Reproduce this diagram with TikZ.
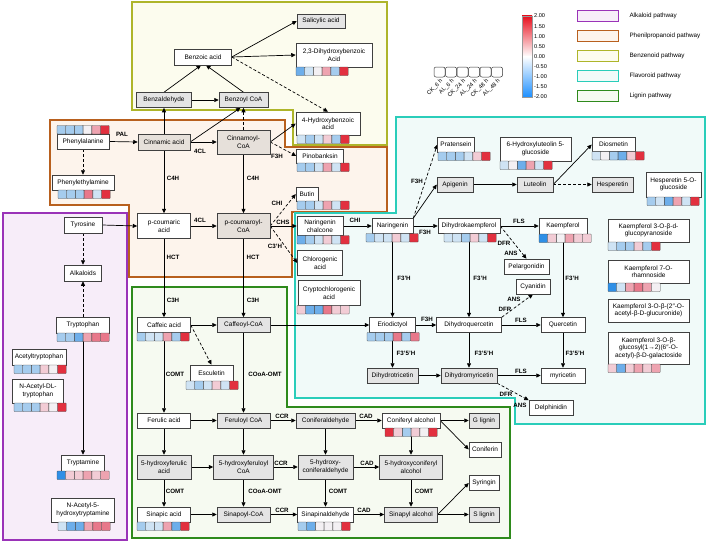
\documentclass[tikz,border=0pt]{standalone}
\usepackage{fontspec}
\setmainfont{Liberation Sans}
\usetikzlibrary{arrows.meta}
\pgfdeclarelayer{back}
\pgfdeclarelayer{mid}
\pgfsetlayers{back,mid,main}

% pathway colours
\definecolor{alkc}{HTML}{9A33B8}
\definecolor{alkf}{HTML}{F7EDF9}
\definecolor{phec}{HTML}{B8601E}
\definecolor{phef}{HTML}{FDF4EC}
\definecolor{benc}{HTML}{AEB52A}
\definecolor{benf}{HTML}{FCFCEE}
\definecolor{flac}{HTML}{2ACDBA}
\definecolor{flaf}{HTML}{F1FAF9}
\definecolor{ligc}{HTML}{2E8A1C}
\definecolor{ligf}{HTML}{F6FAF1}
\definecolor{ndg}{HTML}{E4E4E4}
\definecolor{ndb}{HTML}{E6E0DA}
% heatmap colours
\definecolor{db}{HTML}{2F8FE6}
\definecolor{mb}{HTML}{6DAEEA}
\definecolor{lb}{HTML}{A5CCEE}
\definecolor{vlb}{HTML}{CFE3F4}
\definecolor{wt}{HTML}{F3F0F3}
\definecolor{lp}{HTML}{F2CCD5}
\definecolor{mp}{HTML}{EEA3B0}
\definecolor{mr}{HTML}{E8788A}
\definecolor{dr}{HTML}{E2303F}
\definecolor{cbred}{HTML}{E8101E}
\definecolor{cbblue}{HTML}{1E90FF}

% six cells under (or above) a metabolite: left x, top y, colours
\newcommand\heat[3]{%
  \foreach \c [count=\i from 0] in {#3}
    \filldraw[fill=\c,draw=black!70,line width=0.4pt,rounded corners=0.6pt]
      ({#1+\i*8.7},#2) rectangle ++(8.7,8.5);}

\begin{document}
\begin{tikzpicture}[x=1pt,y=-1pt,
  box/.style={draw=black!75,fill=white,line width=0.5pt,align=center,inner sep=1pt,
    font=\fontsize{6.5}{7.6}\selectfont},
  gbox/.style={box,fill=ndg},
  bbox/.style={box,fill=ndb},
  wh/.style 2 args={minimum width=#1,minimum height=#2},
  enz/.style={font=\bfseries\fontsize{6.2}{7}\selectfont,inner sep=0pt},
  flow/.style={-{Triangle[length=4.5pt,width=4pt]},line width=0.7pt},
  side/.style={flow,dash pattern=on 3pt off 2pt},
  region/.style={line width=1.3pt},
  small/.style={font=\fontsize{6.3}{7}\selectfont}]

\useasboundingbox (0,0) rectangle (708,543);

%-------------------------------------------------------------------
% Pathway regions
\begin{pgfonlayer}{back}
\filldraw[region,draw=benc,fill=benf] (132,2) -- (387,2) -- (387,145) -- (293,145)
  -- (293,110) -- (132,110) -- cycle;
\filldraw[region,draw=phec,fill=phef] (50,120) -- (285,120) -- (285,147) -- (387,147)
  -- (387,212) -- (292,212) -- (292,277) -- (129,277) -- (129,205) -- (50,205) -- cycle;
\filldraw[region,draw=alkc,fill=alkf] (3,213) rectangle (127,540);
\filldraw[region,draw=flac,fill=flaf] (396,117) -- (705,117) -- (705,424) -- (515,424)
  -- (515,398) -- (295,398) -- (295,213) -- (396,213) -- cycle;
\filldraw[region,draw=ligc,fill=ligf] (132,287) -- (287,287) -- (287,407) -- (510,407)
  -- (510,538) -- (132,538) -- cycle;
\end{pgfonlayer}

%-------------------------------------------------------------------
% Benzenoid
\node[gbox,wh={48}{14}] (sal) at (321,21) {Salicylic acid};
\node[box,wh={76}{24}] (dhb) at (334,55) {2,3-Dihydroxybenzoic\\Acid};
\node[box,wh={57}{16}] (bza) at (203,57) {Benzoic acid};
\node[gbox,wh={55}{15}] (bzd) at (164,100) {Benzaldehyde};
\node[gbox,wh={49}{15}] (bzc) at (243.5,100) {Benzoyl CoA};
\node[box,wh={64}{23}] (hba) at (328,123.5) {4-Hydroxybenzoic\\acid};

% Phenylpropanoid
\node[box,wh={52}{15}] (phe) at (83,141.5) {Phenylalanine};
\node[box,wh={62}{15}] (pea) at (83,182.5) {Phenylethylamine};
\node[bbox,wh={52}{16}] (cin) at (164,142) {Cinnamic acid};
\node[bbox,wh={53}{24}] (cio) at (243.5,142) {Cinnamoyl-\\CoA};
\node[box,wh={47}{14}] (pin) at (320,156) {Pinobanksin};
\node[box,wh={22}{14}] (but) at (307,194) {Butin};
\node[box,wh={53}{25}] (pca) at (164,226) {p-coumaric\\acid};
\node[bbox,wh={53}{25}] (pco) at (243.5,226) {p-coumaroyl-\\CoA};

% Alkaloid
\node[box,wh={38}{16}] (tyr) at (83,225) {Tyrosine};
\node[box,wh={37}{16}] (alk) at (83,273) {Alkaloids};
\node[box,wh={53}{16}] (trp) at (83,325) {Tryptophan};
\node[box,wh={54}{16}] (act) at (39,357) {Acetyltryptophan};
\node[box,wh={51}{24}] (nad) at (38,391) {N-Acetyl-DL-\\tryptophan};
\node[box,wh={43}{16}] (tra) at (83,463) {Tryptamine};
\node[box,wh={63}{24}] (nah) at (83,510) {N-Acetyl-5-\\hydroxytryptamine};

% Flavonoid
\node[box,wh={46}{19}] (nch) at (320,226) {Naringenin\\chalcone};
\node[box,wh={45}{25}] (chl) at (320,263) {Chlorogenic\\acid};
\node[box,wh={62}{25}] (cry) at (329,293) {Cryptochlorogenic\\acid};
\node[box,wh={41}{15}] (nar) at (392.5,226) {Naringenin};
\node[box,wh={37}{15}] (pra) at (456,144.5) {Pratensein};
\node[gbox,wh={36}{15}] (api) at (455,184.5) {Apigenin};
\node[box,wh={62}{15}] (dhk) at (469,226) {Dihydrokaempferol};
\node[box,wh={71}{24}] (hlg) at (535.5,149) {6-Hydroxyluteolin 5-\\glucoside};
\node[gbox,wh={36}{15}] (lut) at (535,184.5) {Luteolin};
\node[box,wh={43}{14}] (dio) at (613.5,144.5) {Diosmetin};
\node[gbox,wh={41}{15}] (hes) at (612.5,184.5) {Hesperetin};
\node[box,wh={55}{25}] (hgl) at (673.5,184.5) {Hesperetin 5-O-\\glucoside};
\node[box,wh={48}{16}] (kae) at (563,226) {Kaempferol};
\node[box,wh={81}{23}] (kg1) at (648.5,230.5) {Kaempferol 3-O-β-d-\\glucopyranoside};
\node[box,wh={81}{23}] (kr7) at (648.5,271.5) {Kaempferol 7-O-\\rhamnoside};
\node[box,wh={81}{23}] (kga) at (648.5,310.5) {Kaempferol 3-O-β-(2″-O-\\acetyl-β-D-glucuronide)};
\node[box,wh={81}{32}] (kgg) at (648.5,348) {Kaempferol 3-O-β-\\glucosyl(1→2)(6″-O-\\acetyl)-β-D-galactoside};
\node[box,wh={45}{15}] (pel) at (526.5,266.5) {Pelargonidin};
\node[box,wh={34}{15}] (cya) at (533,286.5) {Cyanidin};
\node[box,wh={46}{15}] (eri) at (392.5,325) {Eriodictyol};
\node[box,wh={65}{15}] (dhq) at (469,325) {Dihydroquercetin};
\node[box,wh={44}{15}] (que) at (563,325) {Quercetin};
\node[gbox,wh={51}{15}] (dht) at (392.5,375.5) {Dihydrotricetin};
\node[gbox,wh={56}{15}] (dhm) at (469,375.5) {Dihydromyricetin};
\node[box,wh={44}{15}] (myr) at (563,375.5) {myricetin};
\node[box,wh={44}{15}] (del) at (551,408) {Delphinidin};

% Lignin
\node[box,wh={53}{15}] (caa) at (164,325) {Caffeic acid};
\node[gbox,wh={53}{15}] (cac) at (243.5,325) {Caffeoyl-CoA};
\node[box,wh={43}{16}] (esc) at (211.5,373) {Esculetin};
\node[box,wh={53}{15}] (fea) at (164,420.5) {Ferulic acid};
\node[gbox,wh={53}{15}] (fec) at (243.5,420.5) {Feruloyl CoA};
\node[gbox,wh={59}{15}] (cod) at (325.5,420.5) {Coniferaldehyde};
\node[box,wh={58}{15}] (coa) at (411,420.5) {Coniferyl alcohol};
\node[gbox,wh={30}{15}] (gli) at (484,420.5) {G lignin};
\node[box,wh={32}{15}] (cof) at (485,449.5) {Coniferin};
\node[gbox,wh={54}{24}] (hfa) at (164,467) {5-hydroxyferulic\\acid};
\node[gbox,wh={60}{24}] (hfc) at (243.5,467) {5-hydroxyferuloyl\\CoA};
\node[gbox,wh={55}{24}] (hcd) at (325.5,467) {5-hydroxy-\\coniferaldehyde};
\node[gbox,wh={63}{24}] (hca) at (411,467) {5-hydroxyconiferyl\\alcohol};
\node[box,wh={30}{15}] (syr) at (484,483) {Syringin};
\node[box,wh={53}{15}] (spa) at (164,514.5) {Sinapic acid};
\node[gbox,wh={53}{15}] (spc) at (243.5,514.5) {Sinapoyl-CoA};
\node[box,wh={56}{15}] (spd) at (325.5,514.5) {Sinapinaldehyde};
\node[gbox,wh={53}{15}] (spl) at (411,514.5) {Sinapyl alcohol};
\node[gbox,wh={30}{15}] (sli) at (484,514.5) {S lignin};

%-------------------------------------------------------------------
% Reactions
\begin{pgfonlayer}{mid}
% benzenoid
\draw[flow] (bzd.east) -- (bzc.west);
\draw[flow] (bzd.north) -- ([xshift=-2]bza.south);
\draw[flow] (bzc.north) -- ([xshift=3]bza.south);
\draw[flow] (bza.east) -- (sal.west);
\draw[flow] (bza.east) -- (dhb.west);
\draw[side] (bza.east) -- (hba.north);
% phenylpropanoid
\draw[flow] (phe.east) -- (cin.west);
\draw[side] (phe.south) -- (pea.north);
\draw[flow] (cin.north) -- (bzd.south);
\draw[flow] (cin.east) -- ([xshift=-3]bzc.south);
\draw[flow] (cin.east) -- (cio.west);
\draw[side] (cio.north) -- (bzc.south);
\draw[flow] (cio.east) -- (hba.west);
\draw[side] (cio.east) -- (pin.west);
\draw[flow] (cin.south) -- (pca.north);
\draw[flow] (cio.south) -- (pco.north);
\draw[flow] (pca.east) -- (pco.west);
\draw[flow] (tyr.east) -- (pca.west);
\draw[side] (pco.east) -- (but.west);
\draw[flow] (pco.east) -- (nch.west);
\draw[side] (pco.east) -- (chl.west);
\draw[flow] (pca.south) -- (caa.north);
\draw[flow] (pco.south) -- (cac.north);
% alkaloid
\draw[side] (tyr.south) -- (alk.north);
\draw[side] (trp.north) -- (alk.south);
\draw[flow] (trp.south) -- (tra.north);
% flavonoid
\draw[flow] (nch.east) -- (nar.west);
\draw[side] (nar.north east) -- (pra.west);
\draw[flow] (nar.north east) -- (api.west);
\draw[flow] (nar.east) -- (dhk.west);
\draw[flow] (api.east) -- (lut.west);
\draw[flow] (lut.east) -- (dio.west);
\draw[side] (lut.east) -- (hes.west);
\draw[flow] (dhk.east) -- (kae.west);
\draw[side] (dhk.east) -- (pel.north);
\draw[flow] (nar.south) -- (eri.north);
\draw[flow] (dhk.south) -- (dhq.north);
\draw[flow] (kae.south) -- (que.north);
\draw[flow] (eri.east) -- (dhq.west);
\draw[flow] (dhq.east) -- (que.west);
\draw[side] (dhq.north east) -- (cya.south);
\draw[flow] (eri.south) -- (dht.north);
\draw[flow] (dhq.south) -- (dhm.north);
\draw[flow] (que.south) -- (myr.north);
\draw[flow] (dht.east) -- (dhm.west);
\draw[flow] (dhm.east) -- (myr.west);
\draw[side] (dhm.south east) -- (del.north west);
\draw[flow] (cac.east) -- (eri.west);
% lignin
\draw[flow] (caa.east) -- (cac.west);
\draw[side] (caa.east) -- (esc.north);
\draw[flow] (caa.south) -- (fea.north);
\draw[flow] (cac.south) -- (fec.north);
\draw[flow] (fea.east) -- (fec.west);
\draw[flow] (fec.east) -- (cod.west);
\draw[flow] (cod.east) -- (coa.west);
\draw[flow] (coa.east) -- (gli.west);
\draw[flow] (coa.east) -- (cof.west);
\draw[flow] (fea.south) -- (hfa.north);
\draw[flow] (fec.south) -- (hfc.north);
\draw[flow] (cod.south) -- (hcd.north);
\draw[flow] (coa.south) -- (hca.north);
\draw[flow] (hfa.east) -- (hfc.west);
\draw[flow] (hfc.east) -- (hcd.west);
\draw[flow] (hcd.east) -- (hca.west);
\draw[flow] (hfa.south) -- (spa.north);
\draw[flow] (hfc.south) -- (spc.north);
\draw[flow] (hcd.south) -- (spd.north);
\draw[flow] (hca.south) -- (spl.north);
\draw[flow] (spa.east) -- (spc.west);
\draw[flow] (spc.east) -- (spd.west);
\draw[flow] (spd.east) -- (spl.west);
\draw[flow] (spl.east) -- (syr.west);
\draw[flow] (spl.east) -- (sli.west);
\end{pgfonlayer}

% Enzymes
\foreach \x/\y/\t [count=\k] in {122/134/PAL, 200/151/4CL, 277/156/F3H, 173/178/C4H,
    253/178/C4H, 200/220/4CL, 173/257/HCT, 253/257/HCT, 173/300/C3H, 253/300/C3H,
    277/203/CHI, 283/222/CHS, 275/246/C3'H, 355/220/CHI, 417/181/F3H, 425/232/F3H,
    404/278/F3'H, 480/278/F3'H, 572/278/F3'H, 519/221/FLS, 504/243/DFR, 511/253/ANS,
    427/319/F3H, 521/320/FLS, 505/309/DFR, 514/299/ANS, 406/353/F3'5'H, 484/353/F3'5'H,
    575/353/F3'5'H, 521/371/FLS, 506/394/DFR, 520/405/ANS, 175/374/COMT,
    265/374/COoA-OMT, 282/416/CCR, 366/416/CAD, 281/463/CCR, 367/463/CAD,
    175/491/COMT, 265/491/COoA-OMT, 338/491/COMT, 424/491/COMT, 282/510/CCR,
    364/510/CAD}
  \node[enz] (enz\k) at (\x,\y) {\t};

%-------------------------------------------------------------------
% Heatmaps (CK_6 h, AL_6 h, CK_24 h, AL_24 h, CK_48 h, AL_48 h)
\heat{57}{125.5}{lb,lb,lb,wt,mp,dr}
\heat{58}{190}{lb,lb,lb,mr,vlb,dr}
\heat{296}{67}{mb,vlb,wt,mp,lb,dr}
\heat{297}{135}{vlb,lb,vlb,lp,lb,dr}
\heat{297}{163}{lb,lb,vlb,mp,vlb,dr}
\heat{297}{201}{lb,lb,vlb,mp,vlb,dr}
\heat{297}{235.5}{mb,lb,vlb,lp,vlb,dr}
\heat{297}{305.5}{lp,mb,mb,mr,lp,lp}
\heat{57}{333}{lb,lb,mb,mp,mr,mr}
\heat{14}{365}{lb,lb,lb,lp,wt,dr}
\heat{14}{403}{lb,lb,lb,lp,wt,dr}
\heat{57}{471}{db,lp,lp,mp,lp,mp}
\heat{58}{522}{vlb,mb,mb,mp,mr,mr}
\heat{366}{233.5}{lb,vlb,vlb,lp,vlb,dr}
\heat{438}{152}{lb,lb,lb,vlb,lp,dr}
\heat{444}{233.5}{vlb,vlb,lb,lp,vlb,dr}
\heat{500}{161}{vlb,wt,mb,mp,vlb,dr}
\heat{592}{151.5}{vlb,wt,lb,mb,lp,dr}
\heat{647}{197}{lb,vlb,mb,mp,vlb,dr}
\heat{539}{234}{db,lp,wt,mp,lp,lp}
\heat{608}{242}{vlb,lb,lb,lp,lb,dr}
\heat{608}{283}{db,vlb,mp,mr,mp,wt}
\heat{608}{364}{lp,mb,lp,mp,lp,mp}
\heat{367}{332.5}{lb,lb,lb,mr,lb,mr}
\heat{137}{332.5}{lb,vlb,vlb,mp,lb,dr}
\heat{186}{381}{vlb,lb,vlb,lp,vlb,dr}
\heat{385}{428}{dr,lp,lb,lp,wt,dr}
\heat{137}{522}{lb,vlb,vlb,mp,mb,dr}
\heat{298}{522}{lb,mb,wt,wt,wt,dr}

%-------------------------------------------------------------------
% Legend: sample order
\foreach \t [count=\i from 0] in {CK\_6 h,AL\_6 h,CK\_24 h,AL\_24 h,CK\_48 h,AL\_48 h}{
  \draw[black!80,line width=0.5pt,rounded corners=2pt,fill=white]
    ({434+\i*11.5},67) rectangle ++(11,10);
  \node[font=\fontsize{5.8}{6}\selectfont,rotate=45,anchor=east,inner sep=0.3pt] (smp\i)
    at ({442+\i*11.5},80) {\t};
}
% colour scale
\shade[top color=cbred,bottom color=white] (522,16) rectangle (532,56.5);
\shade[top color=white,bottom color=cbblue] (522,56.5) rectangle (532,97);
\draw[black!40,line width=0.3pt] (522,16) rectangle (532,97);
\foreach \v [count=\i from 0] in {2.00,1.50,1.00,0.50,0.00,-0.50,-1.00,-1.50,-2.00}
  \node[anchor=west,font=\fontsize{5.6}{6}\selectfont,inner sep=1pt] (scl\i) at (533,{16+\i*10.1}) {\v};
% pathways
\foreach \col/\fil/\t [count=\i from 0] in {alkc/alkf/Alkaloid pathway,
    phec/phef/Phenilpropanoid pathway, benc/benf/Benzenoid pathway,
    flac/flaf/Flavoroid pathway, ligc/ligf/Lignin pathway}{
  \filldraw[draw=\col,fill=\fil,line width=0.8pt] (577,{10+\i*20}) rectangle ++(41,11);
  \node[small,anchor=west] (pw\i) at (626,{15.5+\i*20}) {\t};
}

\end{tikzpicture}
\end{document}
